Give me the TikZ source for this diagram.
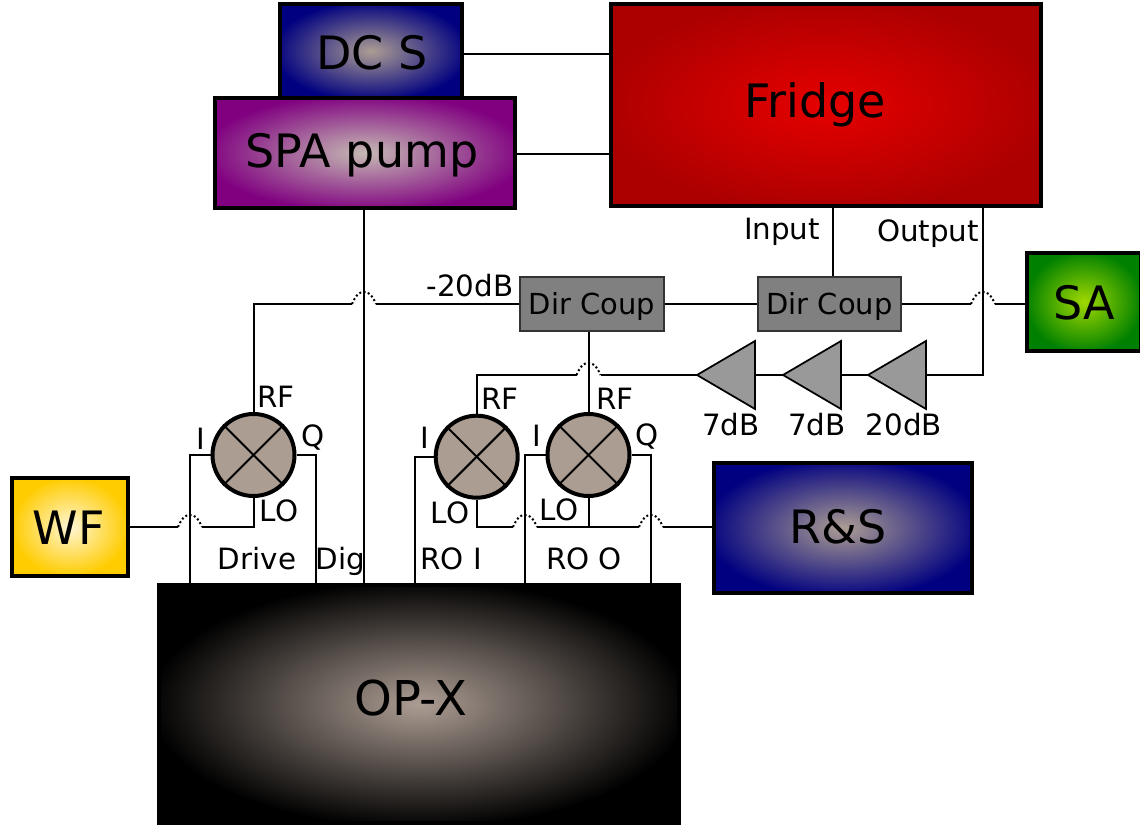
\documentclass[tikz,border=0pt]{standalone}
\usepackage{fontspec}
\setmainfont{DejaVu Sans}
\usetikzlibrary{calc}
\definecolor{mixfill}{HTML}{AC9D93}
\definecolor{fridgein}{HTML}{E60000}
\definecolor{fridgeout}{HTML}{AA0000}
\definecolor{navyout}{HTML}{000080}
\definecolor{purpleout}{HTML}{800080}
\definecolor{greenin}{HTML}{A0D800}
\definecolor{greenout}{HTML}{008000}
\definecolor{yellowin}{HTML}{FFF6D5}
\definecolor{yellowout}{HTML}{FFCC00}
\pgfdeclareradialshading{fridgeshade}{\pgfpointorigin}{color(0bp)=(fridgein);color(27bp)=(fridgeout);color(50bp)=(fridgeout)}
\pgfdeclareradialshading{navyshade}{\pgfpointorigin}{color(0bp)=(mixfill);color(27bp)=(navyout);color(50bp)=(navyout)}
\pgfdeclareradialshading{purpleshade}{\pgfpointorigin}{color(0bp)=(mixfill!70!white);color(27bp)=(purpleout);color(50bp)=(purpleout)}
\pgfdeclareradialshading{greenshade}{\pgfpointorigin}{color(0bp)=(greenin);color(26bp)=(greenout);color(50bp)=(greenout)}
\pgfdeclareradialshading{yellowshade}{\pgfpointorigin}{color(0bp)=(yellowin);color(25bp)=(yellowout);color(50bp)=(yellowout)}
\pgfdeclareradialshading{blackshade}{\pgfpointorigin}{color(0bp)=(mixfill);color(26bp)=(black);color(50bp)=(black)}
\tikzset{
	inst/.style={draw=black,line width=3pt,inner sep=0pt},
	instlab/.style={inner sep=0pt,font=\fontsize{34.5}{36}\selectfont},
	coup/.style={draw=black!80,fill=black!50,line width=1.3pt,minimum width=107.5pt,minimum height=41pt,inner sep=0pt,text height=18pt,text depth=2pt,font=\fontsize{21.7}{24}\selectfont},
	mixer/.style={circle,draw=black,fill=mixfill,line width=3pt,minimum size=61.5pt,inner sep=0pt},
	amp/.style={draw=black,fill=black!40,line width=1.3pt},
	lab/.style={inner sep=0pt,font=\fontsize{22}{24}\selectfont},
	wire/.style={line width=1.5pt},
	hop/.style={line width=1.5pt,dash pattern=on 1.5pt off 1.8pt}
}
% hop of one line over another, centred at the crossing
\newcommand{\wirehop}[2]{\draw[hop] ($(#1,#2)+(-12,0)$) .. controls ($(#1,#2)+(-8,-9)$) and ($(#1,#2)+(-5,-12)$) .. ($(#1,#2)+(0,-12)$) .. controls ($(#1,#2)+(5,-12)$) and ($(#1,#2)+(8,-9)$) .. ($(#1,#2)+(12,0)$);}
\begin{document}
\begin{tikzpicture}[x=0.75pt,y=-0.75pt]
	\useasboundingbox (0,0) rectangle (1140,827);
	% wires first, boxes sit on top
	\coordinate (spaout) at (364,207);
	\coordinate (opxdig) at (364,584);
	\draw[wire] (spaout) -- (opxdig);
	\node[inst,shading=navyshade,minimum width=137pt,minimum height=70pt] (dcs) at (371,51) {};
	\node[inst,shading=purpleshade,minimum width=225pt,minimum height=82pt] (spa) at (365,153) {};
	\node[inst,shading=fridgeshade,minimum width=323pt,minimum height=152pt] (fridge) at (826,105) {};
	\node[inst,shading=greenshade,minimum width=85pt,minimum height=74pt] (sa) at (1084,302) {};
	\node[inst,shading=yellowshade,minimum width=87pt,minimum height=74pt] (wf) at (70,527) {};
	\node[inst,shading=navyshade,minimum width=193pt,minimum height=98pt] (rs) at (843,528) {};
	\node[inst,shading=blackshade,minimum width=390pt,minimum height=179pt] (opx) at (419,704) {};
	\node[instlab] (dcslab) at (372,53) {DC S};
	\node[instlab] (spalab) at (362,155) {SPA pump};
	\node[instlab] (fridgelab) at (815,105) {Fridge};
	\node[instlab] (salab) at (1084,303) {SA};
	\node[instlab] (wflab) at (68.5,528) {WF};
	\node[instlab] (rslab) at (838,527) {R\&S};
	\node[instlab,font=\fontsize{36}{38}\selectfont] (opxlab) at (411,698) {OP-X};
	\node[coup] (coupa) at (592,304) {Dir Coup};
	\node[coup] (coupb) at (829.5,304) {Dir Coup};
	\node[mixer] (mixd) at (253.5,455) {};
	\node[mixer] (mixi) at (476.7,456.7) {};
	\node[mixer] (mixo) at (588.5,455) {};
	\foreach \m in {mixd,mixi,mixo}{
		\draw[wire] (\m.north west) -- (\m.south east);
		\draw[wire] (\m.north east) -- (\m.south west);
	}
	\draw[amp] (755,341) -- (755,409) -- (697,375) -- cycle;
	\draw[amp] (841,341) -- (841,409) -- (783,375) -- cycle;
	\draw[amp] (926,341) -- (926,409) -- (868,375) -- cycle;
	\coordinate (ampa) at (697,375);
	\coordinate (ampain) at (755,375);
	\coordinate (ampb) at (783,375);
	\coordinate (ampbin) at (841,375);
	\coordinate (ampc) at (868,375);
	\coordinate (ampcin) at (926,375);
	\draw[wire] (ampain) -- (ampb);
	\draw[wire] (ampbin) -- (ampc);
	\draw[wire] (dcs.east |- 0,54) -- (fridge.west |- 0,54);
	\draw[wire] (spa.east |- 0,154) -- (fridge.west |- 0,154);
	\coordinate (finput) at (833,207);
	\coordinate (foutput) at (983,207);
	\draw[wire] (finput) -- (finput |- coupb.north);
	\draw[wire] (ampcin) -| (foutput);
	% upper row
	\draw[wire] (coupa) -- (coupb);
	\draw[wire] (coupb.east) -- (971,304);
	\wirehop{983}{304}
	\draw[wire] (995,304) -- (sa.west |- 0,304);
	\draw[wire] (coupa.west) -- (376,304);
	\wirehop{364}{304}
	\draw[wire] (352,304) -| (mixd.north);
	% second row
	\draw[wire] (coupa.south -| mixo.north) -- (mixo.north);
	\draw[wire] (ampa) -- (600.5,375);
	\wirehop{588.5}{375}
	\draw[wire] (576.5,375) -| (mixi.north);
	% I and Q
	\draw[wire] (mixd.west) -| (190,584);
	\draw[wire] (mixd.east) -| (316,584);
	\draw[wire] (mixi.west) -| (415,584);
	\draw[wire] (mixo.west) -| (525,584);
	\draw[wire] (mixo.east) -| (651,584);
	% LO feeds
	\draw[wire] (wf.east |- 0,527) -- (178,527);
	\wirehop{190}{527}
	\draw[wire] (202,527) -| (mixd.south);
	\draw[wire] (mixi.south) |- (513,527);
	\wirehop{525}{527}
	\draw[wire] (537,527) -- (639,527);
	\draw[wire] (mixo.south) -- (mixo.south |- 0,527);
	\wirehop{651}{527}
	\draw[wire] (663,527) -- (rs.west |- 0,527);
	% labels
	\node[lab] (lrfd) at (276,397) {RF};
	\node[lab] (lid) at (201,439) {I};
	\node[lab] (lqd) at (313,438) {Q};
	\node[lab] (llod) at (279,511) {LO};
	\node[lab] (ldrive) at (257,559) {Drive};
	\node[lab] (ldig) at (340.5,561) {Dig};
	\node[lab] (lrfi) at (500,399) {RF};
	\node[lab] (lii) at (425,438) {I};
	\node[lab] (lloi) at (450,513) {LO};
	\node[lab] (lroi) at (451,559) {RO I};
	\node[lab] (lrfo) at (615,399) {RF};
	\node[lab] (lio) at (537,436) {I};
	\node[lab] (lqo) at (647,437) {Q};
	\node[lab] (lloo) at (559,510) {LO};
	\node[lab] (lroo) at (584,559) {RO O};
	\node[lab] (latt) at (470,286) {-20dB};
	\node[lab] (linput) at (782,232) {Input};
	\node[lab] (loutput) at (928,234) {Output};
	\node[lab] (lampa) at (731,425) {7dB};
	\node[lab] (lampb) at (817,425) {7dB};
	\node[lab] (lampc) at (904,425) {20dB};
\end{tikzpicture}
\end{document}
